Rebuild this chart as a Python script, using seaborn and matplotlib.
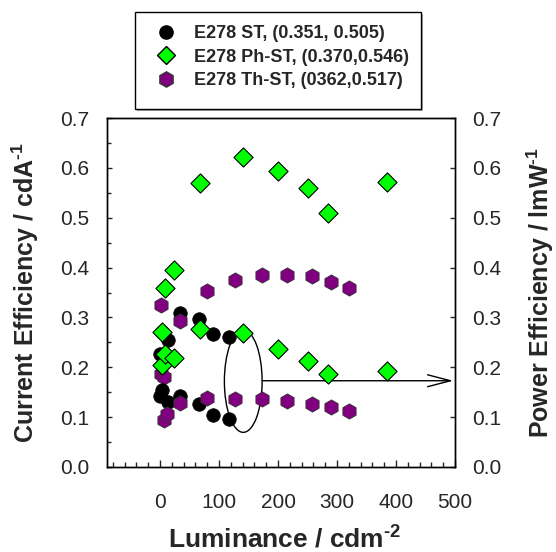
import matplotlib
matplotlib.use("Agg")
import matplotlib.pyplot as plt
import seaborn as sns
from matplotlib.patches import Ellipse, Rectangle
from matplotlib.lines import Line2D
from matplotlib.ticker import MultipleLocator

# E278 ST
st_lum = [0.5, 4, 13, 33, 66, 89, 116]
st_ce = [0.227, 0.271, 0.255, 0.309, 0.296, 0.266, 0.260]
st_pe = [0.143, 0.154, 0.131, 0.143, 0.126, 0.104, 0.097]

# E278 Ph-ST
ph_lum = [3, 9, 23, 67, 140, 200, 250, 285, 384]
ph_ce = [0.271, 0.360, 0.395, 0.570, 0.622, 0.594, 0.559, 0.509, 0.572]
ph_pe = [0.205, 0.227, 0.219, 0.276, 0.268, 0.237, 0.212, 0.186, 0.193]

# E278 Th-ST
th_lum_ce = [1, 1, 6, 33, 80, 127, 173, 216, 257, 290, 321]
th_ce = [0.324, 0.187, 0.181, 0.292, 0.354, 0.376, 0.386, 0.385, 0.383, 0.371, 0.360]
th_lum_pe = [6, 11, 33, 80, 127, 173, 216, 257, 290, 321]
th_pe = [0.094, 0.106, 0.129, 0.138, 0.136, 0.136, 0.133, 0.127, 0.120, 0.113]

labels = ["E278 ST, (0.351, 0.505)",
          "E278 Ph-ST, (0.370,0.546)",
          "E278 Th-ST, (0362,0.517)"]

sns.set_style("ticks")
plt.rcParams['font.family'] = ['Liberation Sans', 'DejaVu Sans']
plt.rcParams['mathtext.fontset'] = 'custom'
plt.rcParams['mathtext.rm'] = 'Liberation Sans:bold'
plt.rcParams['mathtext.bf'] = 'Liberation Sans:bold'

fig = plt.figure(figsize=(5.56, 5.52), dpi=100)
ax = fig.add_axes([107/556, 1-467/552, (455-107)/556, (467-118)/552])
ax2 = ax.twinx()

styles = [
    dict(marker='o', color='black', s=95, edgecolor='black', linewidth=0.5),
    dict(marker='D', color='#00ff00', s=95, edgecolor='black', linewidth=0.8),
    dict(marker='h', color='#800080', s=120, edgecolor='#333333', linewidth=0.6),
]

# current efficiency on the left axis
sns.scatterplot(x=st_lum, y=st_ce, ax=ax, zorder=3, **styles[0])
sns.scatterplot(x=ph_lum, y=ph_ce, ax=ax, zorder=4, **styles[1])
sns.scatterplot(x=th_lum_ce, y=th_ce, ax=ax, zorder=5, **styles[2])
# power efficiency on the right axis
sns.scatterplot(x=st_lum, y=st_pe, ax=ax2, zorder=3, **styles[0])
sns.scatterplot(x=ph_lum, y=ph_pe, ax=ax2, zorder=4, **styles[1])
sns.scatterplot(x=th_lum_pe, y=th_pe, ax=ax2, zorder=5, **styles[2])

for a in (ax, ax2):
    a.set_xlim(-90, 500)
    a.set_ylim(0, 0.7)
    for s in a.spines.values():
        s.set_linewidth(1.0)
        s.set_color('black')

ax.xaxis.set_major_locator(MultipleLocator(100))
ax.xaxis.set_minor_locator(MultipleLocator(20))
ax.yaxis.set_major_locator(MultipleLocator(0.1))
ax.yaxis.set_minor_locator(MultipleLocator(0.05))
ax2.yaxis.set_major_locator(MultipleLocator(0.1))
ax.set_yticklabels([f"{v:.1f}" for v in ax.get_yticks()])
ax2.set_yticklabels([f"{v:.1f}" for v in ax2.get_yticks()])

ax.tick_params(axis='x', which='major', direction='in', length=5, width=1, labelsize=15, pad=19)
ax.tick_params(axis='x', which='minor', direction='in', length=3.5, width=1)
ax.tick_params(axis='y', which='major', direction='in', length=3.5, width=1, labelsize=15, pad=13)
ax.tick_params(axis='y', which='minor', direction='in', length=3, width=1)
ax2.tick_params(axis='y', which='major', direction='in', length=3.5, width=1, labelsize=15, pad=12)

ax.set_xlabel(r"Luminance / cdm$^{\text{-2}}$", fontsize=19, fontweight='bold')
ax.set_ylabel(r"Current Efficiency / cdA$^{\text{-1}}$", fontsize=18, fontweight='bold')
ax2.set_ylabel(r"Power Efficiency / lmW$^{\text{-1}}$", fontsize=18, fontweight='bold')
ax.xaxis.label.set_va('baseline')
ax.yaxis.label.set_va('center')
ax2.yaxis.label.set_va('center')
ax.xaxis.set_label_coords(0.51, -0.230)
ax.yaxis.set_label_coords(-0.236, 0.5)
ax2.yaxis.set_label_coords(1.244, 0.5)

# ellipse and arrow pointing to the power efficiency axis
ax.add_patch(Ellipse((141, 0.172), 64, 0.205, fill=False, edgecolor='black', lw=1, zorder=6))
ax2.annotate("", xy=(497, 0.173), xytext=(173, 0.173),
             arrowprops=dict(arrowstyle='->, head_length=1.65, head_width=0.43',
                             color='black', lw=1, shrinkA=0, shrinkB=0))

# legend box with shadow
fig.patches.append(Rectangle((137/556, 1-111/552), 286/556, 97/552, transform=fig.transFigure,
                             facecolor='#a8a8a8', edgecolor='none', zorder=0))
fig.patches.append(Rectangle((135/556, 1-109/552), 286/556, 97/552, transform=fig.transFigure,
                             facecolor='white', edgecolor='black', lw=1, zorder=1))
handles = [
    Line2D([], [], ls='none', marker='o', color='black', markersize=9.5),
    Line2D([], [], ls='none', marker='D', markerfacecolor='#00ff00', markeredgecolor='black', markersize=9.5),
    Line2D([], [], ls='none', marker='h', markerfacecolor='#800080', markeredgecolor='#333333', markersize=11),
]
fig.legend(handles, labels, loc='upper left', bbox_to_anchor=(152/556, 1-25/552),
           frameon=False, prop=dict(weight='bold', size=13), handlelength=1.5,
           handletextpad=0.8, labelspacing=0.36, borderpad=0, borderaxespad=0)

fig.savefig("out.png", dpi=100)
